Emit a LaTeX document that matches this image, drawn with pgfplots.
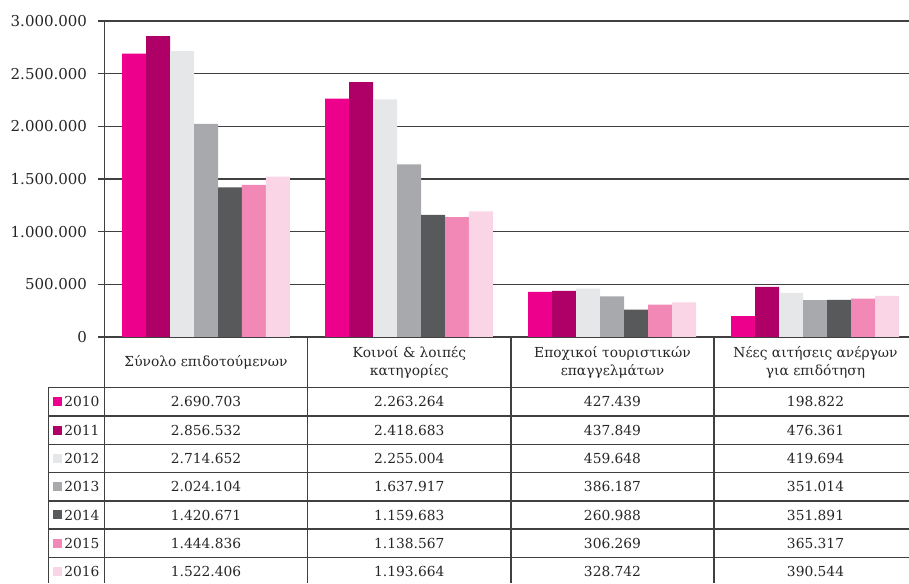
\documentclass[border=0pt]{standalone}
\usepackage{pgfplots}
\pgfplotsset{compat=1.18}
\usepackage{fontspec}
\setmainfont{DejaVu Serif}
\definecolor{cA}{HTML}{EC008C}
\definecolor{cB}{HTML}{AE0066}
\definecolor{cC}{HTML}{E6E7E8}
\definecolor{cD}{HTML}{A7A9AC}
\definecolor{cE}{HTML}{58595B}
\definecolor{cF}{HTML}{F288B6}
\definecolor{cG}{HTML}{F9D5E5}
\definecolor{txt}{HTML}{262626}
\definecolor{ln}{HTML}{404040}
\begin{document}
\begin{tikzpicture}[x=0.5pt,y=0.5pt,font=\fontsize{6.9}{8.6}\selectfont,text=txt]
\useasboundingbox (0,0) rectangle (909,583);
\begin{axis}[at={(52.25pt,123pt)}, anchor=south west,
  width=402.25pt, height=158pt, scale only axis,
  xmin=-0.5, xmax=3.463, ymin=0, ymax=3000000,
  ybar=0pt, bar width=0.1182,
  xtick=\empty,
  ytick={0,500000,1000000,1500000,2000000,2500000,3000000},
  ymajorgrids, grid style={line width=0.55pt, color=ln},
  axis lines=left, axis line style={-, line width=0.75pt, color=ln},
  tick align=outside, major tick length=3pt,
  tick style={color=ln, line width=0.55pt},
  scaled y ticks=false,
  yticklabel style={font=\fontsize{7.5}{9}\selectfont, text=txt, xshift=-2.2pt},
  yticklabel style={/pgf/number format/.cd, fixed, 1000 sep={.}, assume math mode=true},
  clip=false]
\addplot[fill=cA, draw=none] coordinates {(0,2690703) (1,2263264) (2,427439) (3,198822)};
\addplot[fill=cB, draw=none] coordinates {(0,2856532) (1,2418683) (2,437849) (3,476361)};
\addplot[fill=cC, draw=none] coordinates {(0,2714652) (1,2255004) (2,459648) (3,419694)};
\addplot[fill=cD, draw=none] coordinates {(0,2024104) (1,1637917) (2,386187) (3,351014)};
\addplot[fill=cE, draw=none] coordinates {(0,1420671) (1,1159683) (2,260988) (3,351891)};
\addplot[fill=cF, draw=none] coordinates {(0,1444836) (1,1138567) (2,306269) (3,365317)};
\addplot[fill=cG, draw=none] coordinates {(0,1522406) (1,1193664) (2,328742) (3,390544)};
\end{axis}
\begin{scope}[yshift=291.5pt, y=-0.5pt]
% table grid
\begin{scope}[line width=0.75pt, color=ln]
\draw (48.3,387.7) -- (48.3,583);
\foreach \xx in {104.5,307.7,511,714} \draw (\xx,337) -- (\xx,583);
\foreach \k in {0,...,6} \draw (48.3,387.7+28.3*\k) -- (909,387.7+28.3*\k);
\end{scope}
% header
\node at (206,362.5) {Σύνολο επιδοτούμενων};
\node[align=center] at (409.3,362.5) {Κοινοί \& λοιπές\\κατηγορίες};
\node[align=center] at (612.5,362.5) {Εποχικοί τουριστικών\\επαγγελμάτων};
\node[align=center] at (815.5,362.5) {Νέες αιτήσεις ανέργων\\για επιδότηση};
% legend column
\foreach \c/\yr [count=\i from 0] in {cA/2010,cB/2011,cC/2012,cD/2013,cE/2014,cF/2015,cG/2016}{
  \fill[\c] (53,401.8+28.3*\i-4.5) rectangle (62,401.8+28.3*\i+4.5);
  \node[anchor=west, inner sep=0pt] at (64,401.8+28.3*\i) {\yr};
}
% values
\foreach \a/\b/\c/\d [count=\i from 0] in {
 2.690.703/2.263.264/427.439/198.822,
 2.856.532/2.418.683/437.849/476.361,
 2.714.652/2.255.004/459.648/419.694,
 2.024.104/1.637.917/386.187/351.014,
 1.420.671/1.159.683/260.988/351.891,
 1.444.836/1.138.567/306.269/365.317,
 1.522.406/1.193.664/328.742/390.544}{
  \node at (206,401.8+28.3*\i) {\a};
  \node at (409.3,401.8+28.3*\i) {\b};
  \node at (612.5,401.8+28.3*\i) {\c};
  \node at (815.5,401.8+28.3*\i) {\d};
}
\end{scope}
\end{tikzpicture}
\end{document}
